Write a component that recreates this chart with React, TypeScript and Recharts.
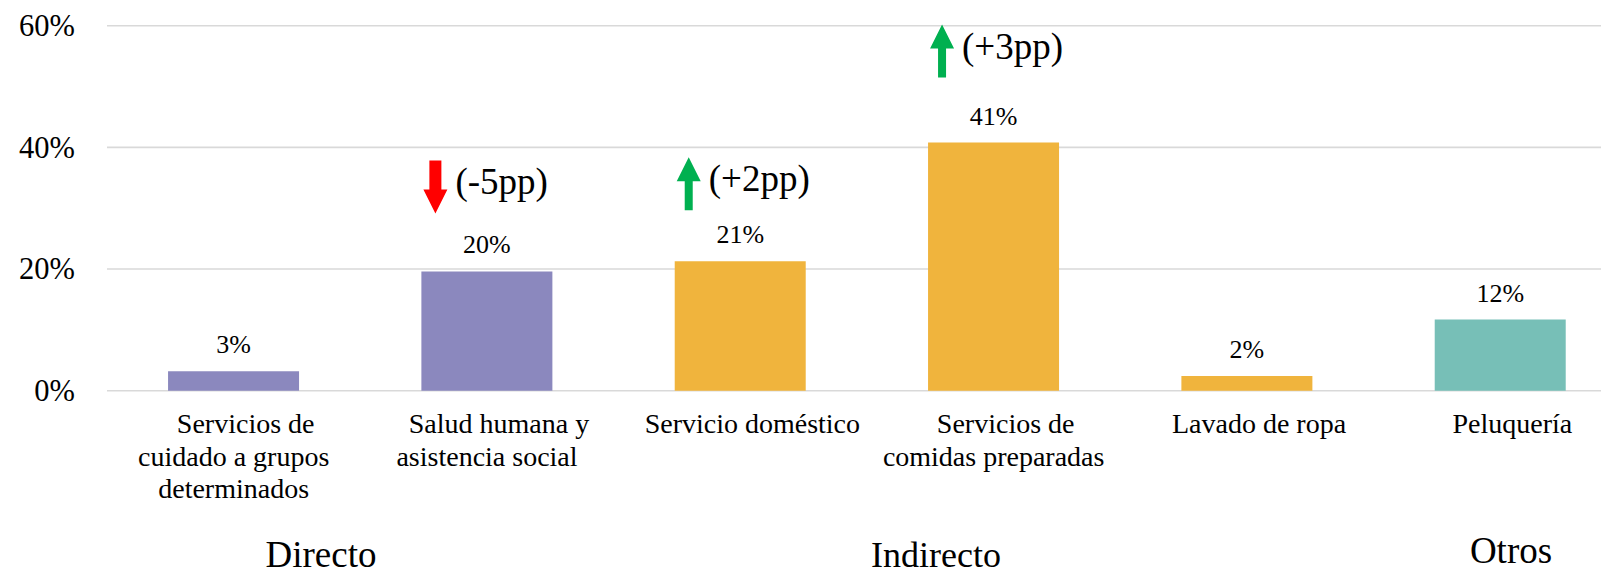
import { BarChart, Bar, XAxis, YAxis, CartesianGrid, Cell, LabelList } from 'recharts';

const FONT = "'Times New Roman', 'Liberation Serif', serif";

// data
const categories = [
  'Servicios de\ncuidado a grupos\ndeterminados',
  'Salud humana y\nasistencia social',
  'Servicio doméstico',
  'Servicios de\ncomidas preparadas',
  'Lavado de ropa',
  'Peluquería',
];
const shares = [3.2, 19.6, 21.3, 40.8, 2.4, 11.7];
const groups = ['Directo', 'Directo', 'Indirecto', 'Indirecto', 'Indirecto', 'Otros'];
const changes: (number | null)[] = [null, -5, 2, 3, null, null];
const yTicks = [0, 20, 40, 60];
const groupNames = ['Directo', 'Indirecto', 'Otros'];

const groupColors: Record<string, string> = {
  Directo: '#8B88BE',
  Indirecto: '#F0B43D',
  Otros: '#77BFB7',
};

// layout tweaks (not data)
const changeLift = [0, 111, 104, 118, 0, 0];
const groupLabelPos = [
  { x: 321, y: 567, size: 37 },
  { x: 936, y: 567, size: 36 },
  { x: 1511, y: 563, size: 37 },
];

const data = categories.map((name, i) => ({
  name,
  value: shares[i],
  group: groups[i],
  change: changes[i],
  idx: i,
}));

function CategoryTick({ x, y, payload }: any) {
  const lines = String(payload.value).split('\n');
  return (
    <text x={x} y={y} textAnchor="middle" fontFamily={FONT} fontSize={28} fill="#000">
      {lines.map((line, i) => (
        <tspan key={i} x={x + (i === 0 ? 12 : 0)} dy={i === 0 ? 42.6 : 32.3}>
          {line}
        </tspan>
      ))}
    </text>
  );
}

function PercentTick({ x, y, payload }: any) {
  return (
    <text x={x} y={y} dy="0.34em" textAnchor="end" fontFamily={FONT} fontSize={30.5} fill="#000">
      {`${payload.value}%`}
    </text>
  );
}

function ValueLabel(props: any) {
  const vb = props.viewBox ?? props;
  const { x, y, width } = vb;
  return (
    <text x={x + width / 2} y={y - 18} textAnchor="middle" fontFamily={FONT} fontSize={26} fill="#000">
      {`${Math.round(Number(props.value))}%`}
    </text>
  );
}

function ChangeMark(props: any) {
  const row = props.value;
  if (!row || row.change == null) return null;
  const vb = props.viewBox ?? props;
  const { x, y } = vb;
  const top = y - changeLift[row.idx];
  const cx = x + 14;
  const h = 53;
  const up = row.change > 0;
  const s = up ? 8 : 12;
  const hw = 24;
  const hl = 24;
  let pts: number[][];
  if (up) {
    pts = [
      [cx, top], [cx + hw / 2, top + hl], [cx + s / 2, top + hl], [cx + s / 2, top + h],
      [cx - s / 2, top + h], [cx - s / 2, top + hl], [cx - hw / 2, top + hl],
    ];
  } else {
    const b = top + h;
    pts = [
      [cx, b], [cx + hw / 2, b - hl], [cx + s / 2, b - hl], [cx + s / 2, top],
      [cx - s / 2, top], [cx - s / 2, b - hl], [cx - hw / 2, b - hl],
    ];
  }
  const label = up ? `(+${row.change}pp)` : `(${row.change}pp)`;
  return (
    <g>
      <polygon points={pts.map((p) => p.join(',')).join(' ')} fill={up ? '#00B050' : '#FF0000'} />
      <text x={cx + 20} y={top + 34} fontFamily={FONT} fontSize={37} fill="#000">
        {label}
      </text>
    </g>
  );
}

export default function App() {
  return (
    <div
      style={{
        position: 'absolute',
        left: 0,
        top: 0,
        width: 1601,
        height: 570,
        overflow: 'hidden',
        background: '#fff',
        fontFamily: FONT,
      }}
    >
      <BarChart
        width={1627}
        height={570}
        data={data}
        margin={{ top: 25.7, right: 0, bottom: 0, left: 0 }}
        barCategoryGap="24.1%"
      >
        <CartesianGrid vertical={false} stroke="#D9D9D9" strokeWidth={1.6} />
        <XAxis
          dataKey="name"
          axisLine={false}
          tickLine={false}
          tickSize={0}
          tickMargin={0}
          interval={0}
          height={179.3}
          tick={<CategoryTick />}
        />
        <YAxis
          domain={[0, 60]}
          ticks={yTicks}
          width={107}
          axisLine={false}
          tickLine={false}
          tickSize={24}
          tickMargin={8}
          tick={<PercentTick />}
        />
        <Bar dataKey="value" isAnimationActive={false}>
          {data.map((d, i) => (
            <Cell key={i} fill={groupColors[d.group]} />
          ))}
          <LabelList dataKey="value" content={<ValueLabel />} />
          <LabelList dataKey={(d: any) => d} content={<ChangeMark />} />
        </Bar>
      </BarChart>
      <svg
        width={1601}
        height={570}
        style={{ position: 'absolute', left: 0, top: 0, pointerEvents: 'none' }}
      >
        {groupNames.map((g, i) => (
          <text
            key={g}
            x={groupLabelPos[i].x}
            y={groupLabelPos[i].y}
            textAnchor="middle"
            fontFamily={FONT}
            fontSize={groupLabelPos[i].size}
            fill="#000"
          >
            {g}
          </text>
        ))}
      </svg>
    </div>
  );
}
